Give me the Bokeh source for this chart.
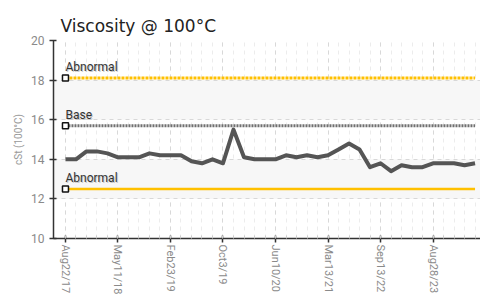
from bokeh.plotting import figure
from bokeh.models import Range1d, FixedTicker, ColumnDataSource
from bokeh.core.properties import value
from bokeh.embed import file_html
from bokeh.resources import INLINE

# ---- data ----
visc = [14.0, 14.0, 14.4, 14.4, 14.3, 14.1, 14.1, 14.1, 14.3, 14.2,
        14.2, 14.2, 13.9, 13.8, 14.0, 13.8, 15.5, 14.1, 14.0, 14.0,
        14.0, 14.2, 14.1, 14.2, 14.1, 14.2, 14.5, 14.8, 14.5, 13.6,
        13.8, 13.4, 13.7, 13.6, 13.6, 13.8, 13.8, 13.8, 13.7, 13.8]
tick_labels = ["Aug22/17", "May11/18", "Feb23/19", "Oct3/19",
               "Jun10/20", "Mar13/21", "Sep13/22", "Aug28/23"]
label_step = 5
limit_names = ["Abnormal", "Base", "Abnormal"]
limit_values = [18.1, 15.7, 12.5]
limit_colors = ["#ffc000", "#707070", "#ffc000"]
limit_dashes = ["3 1", "2 1", "solid"]
limit_widths = [3, 3, 2.5]

idx = list(range(len(visc)))
tick_pos = list(range(0, len(visc), label_step))[:len(tick_labels)]

p = figure(width=480, height=297, output_backend="svg", toolbar_location=None,
           x_range=Range1d(-1.14, 39.52), y_range=Range1d(10, 20),
           min_border_left=53, min_border_right=0, min_border_top=40,
           min_border_bottom=54)
p.outline_line_color = None
p.background_fill_color = "white"

p.title.text = "Viscosity @ 100°C"
p.title.text_font = "DejaVu Sans"
p.title.text_font_size = "17px"
p.title.text_font_style = "normal"
p.title.text_color = "#222222"
p.title.align = "left"
p.title.offset = 7

# axes
xt = FixedTicker(ticks=tick_pos, minor_ticks=idx)
p.xaxis.ticker = xt
p.xaxis.major_label_overrides = {tp: lab for tp, lab in zip(tick_pos, tick_labels)}
p.xaxis.major_label_orientation = "vertical"
p.xaxis.major_label_standoff = 2
p.yaxis.ticker = FixedTicker(ticks=[10, 12, 14, 16, 18, 20])
p.yaxis.minor_tick_line_color = None
for ax in (p.xaxis, p.yaxis):
    ax.axis_line_color = "#333333"
    ax.axis_line_width = 1.5
    ax.major_tick_line_color = "#333333"
    ax.major_tick_line_width = 1.5
    ax.major_tick_out = 4
    ax.major_tick_in = 3
    ax.major_label_text_font = "Roboto"
    ax.major_label_text_color = "#8a8a8a"
p.xaxis.major_label_text_font_size = "11px"
p.yaxis.major_label_text_font_size = "12px"
p.xaxis.minor_tick_line_color = "#cccccc"
p.xaxis.minor_tick_out = 0
p.xaxis.minor_tick_in = 3
p.yaxis.axis_label = "cSt (100°C)"
p.yaxis.axis_label_text_font = "Roboto"
p.yaxis.axis_label_text_font_size = "10px"
p.yaxis.axis_label_text_font_style = "normal"
p.yaxis.axis_label_text_color = "#999999"
p.yaxis.axis_label_standoff = 4

# grids
p.xgrid.grid_line_color = "#d8d8d8"
p.xgrid.grid_line_dash = "4 4"
p.xgrid.minor_grid_line_color = "#ececec"
p.xgrid.minor_grid_line_dash = "4 4"
p.ygrid.grid_line_color = "#d8d8d8"
p.ygrid.grid_line_dash = "4 4"
p.ygrid.band_fill_color = "#f7f7f7"
p.ygrid.band_fill_alpha = 1

# limit lines
for name, v, c, d, w in zip(limit_names, limit_values, limit_colors, limit_dashes, limit_widths):
    p.line([0, idx[-1]], [v, v], line_color=c, line_width=w, line_dash=d)

# main series
p.line(idx, visc, line_color="#555555", line_width=4, line_join="round")

# labels with shadow
src = ColumnDataSource(dict(x=[0] * len(limit_values), y=limit_values, t=limit_names))
p.text(x="x", y="y", text="t", source=src, x_offset=1, y_offset=-3,
       text_font=value("Roboto"), text_font_size="12px", text_color="#c8c8c8",
       text_baseline="bottom", text_align="left")
p.text(x="x", y="y", text="t", source=src, x_offset=0, y_offset=-4,
       text_font=value("Roboto"), text_font_size="12px", text_color="#333333",
       text_baseline="bottom", text_align="left")
p.scatter(x="x", y="y", source=src, marker="square", size=6,
          fill_color="white", line_color="#111111", line_width=1.5)

open("out.html", "w").write(file_html(p, INLINE))
